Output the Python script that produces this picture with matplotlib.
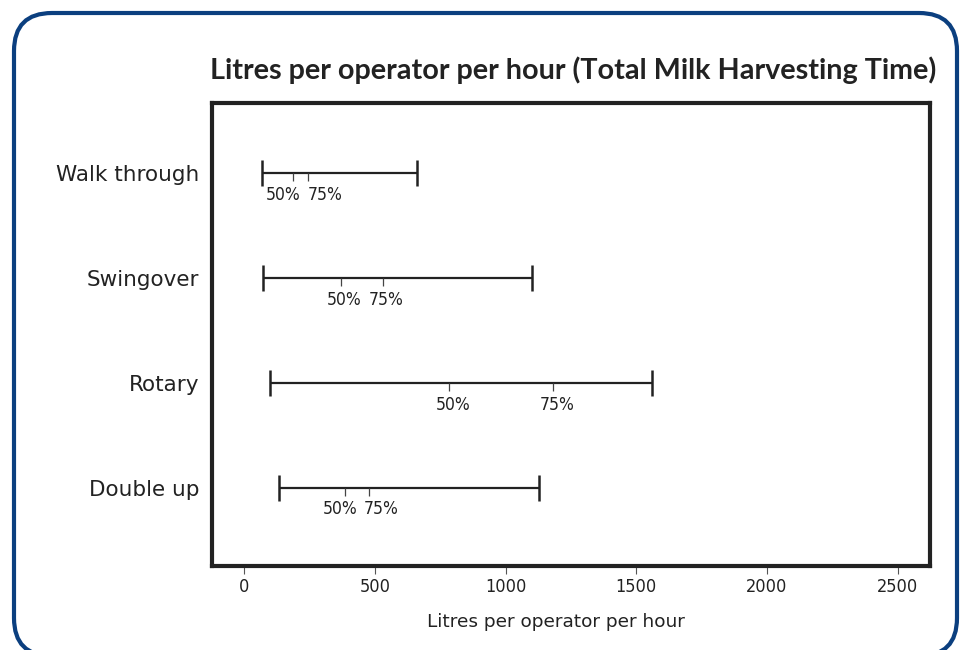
import matplotlib
matplotlib.use("Agg")
import matplotlib.pyplot as plt
import matplotlib.patches as patches

# values
categories = ['Walk through', 'Swingover', 'Rotary', 'Double up']
lows = [67, 73, 98, 133]
p50 = [187, 370, 784, 386]
p75 = [243, 530, 1182, 478]
highs = [660, 1100, 1559, 1129]
xticks = [0, 500, 1000, 1500, 2000, 2500]

title = 'Litres per operator per hour (Total Milk Harvesting Time)'
xlabel = 'Litres per operator per hour'

W, H = 963, 650
ink = '#222222'

fig = plt.figure(figsize=(W / 100, H / 100), dpi=100)

# rounded blue frame around the whole panel (pixel coordinates, y up)
bg = fig.add_axes([0, 0, 1, 1])
bg.set_xlim(0, W)
bg.set_ylim(0, H)
bg.axis('off')
frame = patches.FancyBboxPatch((14, -6), 943, H - 13 + 6,
                               boxstyle='round,pad=0,rounding_size=38',
                               linewidth=3, edgecolor='#0b3f7f', facecolor='none')
bg.add_patch(frame)

ax = fig.add_axes([212 / W, 1 - 566 / H, 718 / W, 463 / H])
ax.set_xlim(-124, 2624)
ax.set_ylim(-0.743, 3.667)

ypos = [3 - i for i in range(len(categories))]

for y, lo, m, q, hi in zip(ypos, lows, p50, p75, highs):
    ax.plot([lo, hi], [y, y], color=ink, linewidth=1.6, solid_capstyle='butt')
    ax.plot([lo, hi], [y, y], linestyle='none', marker='|', markersize=19,
            markeredgewidth=1.8, color=ink)
    ax.plot([m, q], [y, y], linestyle='none', marker=3, markersize=6,
            markeredgewidth=0.9, color='#444444')
    # spread labels apart when the ticks sit close together
    lm, lq = m, q
    if q - m < 160:
        mid = (m + q) / 2
        lm, lq = mid - 80, mid + 80
    for lx, txt in [(lm, '50%'), (lq, '75%')]:
        ax.annotate(txt, (lx, y), xytext=(2.5, -9), textcoords='offset points',
                    ha='center', va='top', fontsize=12.5, color=ink,
                    family='DejaVu Sans', fontstretch='condensed')

for side in ['top', 'bottom', 'left', 'right']:
    ax.spines[side].set_linewidth(3)
    ax.spines[side].set_color(ink)

ax.set_yticks(ypos)
ax.set_yticklabels(categories, fontsize=15.5, color=ink, family='DejaVu Sans')
ax.tick_params(axis='y', length=0, pad=9)

ax.set_xticks(xticks)
ax.set_xticklabels([str(t) for t in xticks], fontsize=13, color=ink,
                   family='DejaVu Sans', fontstretch='condensed')
ax.tick_params(axis='x', direction='out', length=6, width=0.8, color='#555555', pad=3)

ax.set_xlabel(xlabel, fontsize=13.3, color=ink, family='DejaVu Sans')
ax.xaxis.set_label_coords((556 - 212) / 718, -(622 - 566) / 463)
ax.xaxis.label.set_va('center')

fig.text(210 / W, 1 - 70 / H, title, fontsize=20.7, fontweight='bold', color=ink,
         family=['Lato', 'DejaVu Sans'], ha='left', va='center')

fig.savefig('out.png', dpi=100)
